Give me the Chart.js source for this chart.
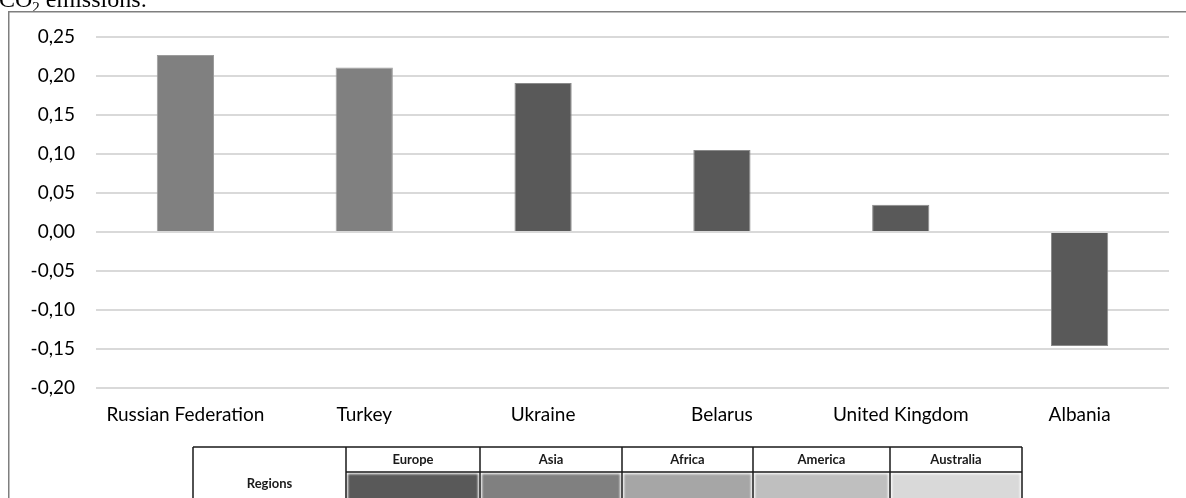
<!DOCTYPE html>
<html>
<head>
<meta charset="utf-8">
<title>CO2 emissions</title>
<script src="https://cdn.jsdelivr.net/npm/chart.js@4.4.1/dist/chart.umd.min.js"></script>
<style>
  html, body { margin: 0; padding: 0; background: #fff; overflow: hidden; }
  #wrap { width: 1186px; height: 498px; position: relative; }
</style>
</head>
<body>
<div id="wrap"><canvas id="chart" width="1186" height="498"></canvas></div>
<script>
// Countries and their change in CO2 emissions
const categories = ['Russian Federation', 'Turkey', 'Ukraine', 'Belarus', 'United Kingdom', 'Albania'];
const values = [0.227, 0.211, 0.191, 0.105, 0.035, -0.146];
const countryRegion = ['Asia', 'Asia', 'Europe', 'Europe', 'Europe', 'Europe'];

// Region key shown in the table under the chart
const regions = ['Europe', 'Asia', 'Africa', 'America', 'Australia'];
const regionColors = ['#595959', '#808080', '#a6a6a6', '#bfbfbf', '#d9d9d9'];
const regionBorders = ['#8a8a8a', '#9c9c9c', '#bdbdbd', '#d0d0d0', '#e4e4e4'];

// Value axis range
const yMin = -0.20;
const yMax = 0.25;
const yStep = 0.05;

const FONT = 'Lato, "Open Sans", sans-serif';

const barColors = countryRegion.map(r => regionColors[regions.indexOf(r)]);
const barBorders = countryRegion.map(r => regionBorders[regions.indexOf(r)]);

function formatTick(v) {
  if (Math.abs(v) < 1e-9) v = 0;
  return v.toFixed(2).replace('.', ',');
}

// Frame, clipped heading and the region key table
const decorations = {
  id: 'decorations',
  afterDraw(chart) {
    const ctx = chart.ctx;
    ctx.save();

    // heading, partly above the page edge
    const serif = '"Liberation Serif", "Times New Roman", serif';
    ctx.fillStyle = '#000';
    ctx.textBaseline = 'alphabetic';
    ctx.textAlign = 'left';
    ctx.font = '24px ' + serif;
    ctx.fillText('CO', -1, 7);
    const coW = ctx.measureText('CO').width;
    ctx.font = '15px ' + serif;
    ctx.fillText('2', -1 + coW, 12);
    const subW = ctx.measureText('2').width;
    ctx.font = '24px ' + serif;
    ctx.fillText(' emissions:', -1 + coW + subW, 7);

    // outer frame
    ctx.strokeStyle = '#7f7f7f';
    ctx.lineWidth = 1.5;
    ctx.beginPath();
    ctx.moveTo(8.75, 520);
    ctx.lineTo(8.75, 11.75);
    ctx.lineTo(1200, 11.75);
    ctx.stroke();

    // region key table
    const cols = [193, 346, 480, 622, 753, 890, 1022];
    const top = 447, mid = 472, bottom = 500;

    // coloured swatches
    for (let i = 0; i < regions.length; i++) {
      const x0 = cols[i + 1], x1 = cols[i + 2];
      ctx.save();
      ctx.filter = 'blur(1px)';
      ctx.fillStyle = regionColors[i];
      ctx.fillRect(x0 + 2, mid + 2, x1 - x0 - 4, bottom - mid);
      ctx.restore();
    }

    ctx.strokeStyle = '#1a1a1a';
    ctx.lineWidth = 1.5;
    ctx.beginPath();
    ctx.moveTo(cols[0], top); ctx.lineTo(cols[cols.length - 1], top);
    ctx.moveTo(cols[1], mid); ctx.lineTo(cols[cols.length - 1], mid);
    for (const x of cols) { ctx.moveTo(x, top); ctx.lineTo(x, bottom); }
    ctx.stroke();

    ctx.fillStyle = '#1a1a1a';
    ctx.textAlign = 'center';
    ctx.textBaseline = 'middle';
    ctx.font = 'bold 13px ' + FONT;
    ctx.fillText('Regions', (cols[0] + cols[1]) / 2, 484);
    for (let i = 0; i < regions.length; i++) {
      ctx.fillText(regions[i], (cols[i + 1] + cols[i + 2]) / 2, 460);
    }
    ctx.restore();
  }
};

new Chart(document.getElementById('chart'), {
  type: 'bar',
  data: {
    labels: categories,
    datasets: [{
      data: values,
      backgroundColor: barColors,
      borderColor: barBorders,
      borderWidth: 1,
      barPercentage: 0.32,
      categoryPercentage: 1.0
    }]
  },
  options: {
    responsive: false,
    animation: false,
    layout: { padding: { left: 0, top: 37, right: 17, bottom: 0 } },
    plugins: {
      legend: { display: false },
      tooltip: { enabled: false },
      title: { display: false }
    },
    scales: {
      x: {
        grid: { display: false, drawTicks: false },
        border: { display: false },
        ticks: {
          color: '#000',
          font: { family: FONT, size: 19 },
          padding: 15,
          maxRotation: 0,
          autoSkip: false
        },
        afterFit(scale) { scale.height = 110; }
      },
      y: {
        min: yMin,
        max: yMax,
        grid: { color: '#d9d9d9', lineWidth: 2, drawTicks: false },
        border: { display: false },
        ticks: {
          stepSize: yStep,
          color: '#000',
          font: { family: FONT, size: 19 },
          padding: 21,
          callback: v => formatTick(v)
        },
        afterFit(scale) { scale.width = 96; }
      }
    }
  },
  plugins: [decorations]
});
</script>
</body>
</html>
